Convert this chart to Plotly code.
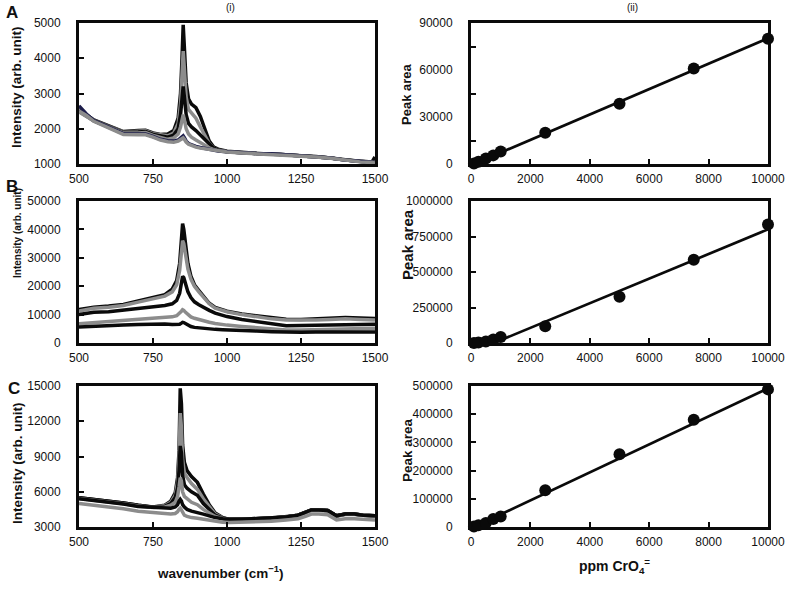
import plotly.graph_objects as go

# ---------------- DATA ----------------
# Panel A spectra (i)
wnA = [500, 525, 550, 600, 650, 700, 725, 750, 775, 800, 820, 835, 843, 848, 852, 856, 862, 870, 880, 895,
       910, 925, 940, 955, 970, 1000, 1050, 1100, 1150, 1200, 1250, 1300, 1350, 1400, 1450, 1490, 1500]
A1 = [2520, 2400, 2250, 2080, 1920, 1950, 1960, 1880, 1840, 1850, 1950, 2300, 3000, 4000, 4950, 4300, 3300, 2850, 2700, 2600,
      2350, 2000, 1650, 1480, 1420, 1360, 1320, 1300, 1290, 1260, 1240, 1210, 1170, 1110, 1070, 1060, 1200]
A2 = [2500, 2380, 2240, 2070, 1910, 1930, 1940, 1860, 1820, 1800, 1880, 2150, 2700, 3500, 4200, 3700, 2900, 2550, 2450, 2300,
      2050, 1800, 1580, 1450, 1400, 1350, 1320, 1300, 1290, 1260, 1240, 1210, 1170, 1110, 1070, 1050, 1040]
A3 = [2490, 2370, 2230, 2060, 1900, 1910, 1920, 1840, 1790, 1760, 1820, 2000, 2400, 2900, 3200, 2900, 2400, 2150, 2050, 1950,
      1820, 1700, 1550, 1450, 1400, 1350, 1320, 1300, 1290, 1260, 1240, 1210, 1170, 1110, 1070, 1050, 1040]
A4 = [2480, 2360, 2220, 2050, 1880, 1880, 1890, 1810, 1750, 1700, 1740, 1850, 2050, 2250, 2400, 2250, 2000, 1850, 1760, 1680,
      1600, 1520, 1460, 1410, 1380, 1350, 1320, 1300, 1290, 1260, 1240, 1210, 1170, 1110, 1070, 1050, 1040]
A5 = [2650, 2420, 2230, 2040, 1860, 1850, 1850, 1780, 1700, 1660, 1650, 1680, 1740, 1790, 1800, 1750, 1650, 1580, 1540, 1500,
      1470, 1440, 1410, 1390, 1370, 1350, 1320, 1300, 1290, 1260, 1240, 1210, 1170, 1110, 1070, 1050, 1040]
A6 = [2500, 2380, 2210, 2020, 1840, 1830, 1830, 1760, 1680, 1630, 1620, 1650, 1700, 1730, 1740, 1700, 1620, 1560, 1520, 1480,
      1450, 1430, 1400, 1380, 1360, 1340, 1310, 1290, 1280, 1250, 1230, 1200, 1160, 1100, 1060, 1040, 1030]

# Panel B spectra
wnB = [500, 550, 600, 650, 700, 750, 790, 815, 830, 840, 846, 850, 854, 860, 868, 878, 890, 905, 920, 940, 960, 985,
       1000, 1050, 1100, 1150, 1200, 1250, 1300, 1350, 1400, 1450, 1500]
B1 = [11800, 12600, 13000, 13600, 14800, 16000, 17000, 19000, 22000, 28000, 36000, 42000, 40000, 34000, 28000, 23500,
      20500, 18500, 16500, 14000, 12500, 11800, 11200, 10200, 9500, 8800, 8400, 8300, 8500, 8700, 9000, 8800, 8600]
B2 = [11300, 12200, 12600, 13200, 14400, 15500, 16500, 18000, 20500, 25500, 31500, 36000, 35000, 30500, 26000, 22500,
      20000, 18000, 16200, 13800, 12300, 11500, 11000, 10000, 9200, 8500, 8100, 8000, 8100, 8300, 8500, 8300, 8100]
B3 = [10000, 10800, 11000, 11500, 12000, 12600, 13200, 13800, 15000, 17500, 21000, 23500, 23000, 20500, 18000, 16000,
      14500, 13500, 12500, 11500, 10500, 9800, 9300, 8300, 7600, 6800, 6100, 6200, 6300, 6400, 6600, 6700, 6600]
B4 = [6800, 7200, 7400, 7700, 8100, 8500, 8900, 9200, 9600, 10400, 11200, 11700, 11500, 10800, 9900, 9200,
      8700, 8200, 7800, 7300, 6900, 6500, 6300, 5800, 5300, 4900, 4600, 4600, 4700, 4800, 5000, 5100, 5200]
B5 = [5600, 5900, 6100, 6300, 6500, 6700, 6700, 6500, 6400, 6600, 7000, 7300, 7200, 6800, 6200, 5800,
      5500, 5300, 5100, 4900, 4800, 4700, 4600, 4400, 4200, 4000, 3800, 3800, 3900, 3900, 4000, 4000, 3900]

# Panel C spectra
wnC = [500, 550, 600, 650, 700, 750, 790, 810, 825, 833, 838, 842, 846, 850, 856, 865, 880, 900, 920, 940, 960, 985,
       1010, 1050, 1100, 1150, 1200, 1240, 1265, 1285, 1310, 1340, 1370, 1400, 1430, 1460, 1500]
C1 = [5500, 5350, 5250, 5050, 4850, 4700, 4850, 5200, 5900, 7200, 9500, 14800, 13500, 10000, 8500, 7800, 7300, 6800, 5800,
      4900, 4200, 3800, 3650, 3650, 3700, 3750, 3850, 4000, 4250, 4450, 4450, 4400, 3950, 4100, 4100, 4000, 3950]
C2 = [5450, 5300, 5200, 5000, 4800, 4680, 4800, 5100, 5700, 6800, 8700, 12700, 11500, 8800, 7600, 7200, 6700, 6200, 5400,
      4700, 4100, 3780, 3640, 3640, 3690, 3740, 3840, 3990, 4240, 4430, 4430, 4380, 3940, 4080, 4080, 3990, 3940]
C3 = [5500, 5350, 5250, 5050, 4850, 4680, 4750, 5000, 5500, 6300, 7800, 9900, 9300, 7400, 6600, 6300, 6000, 5700, 5000,
      4500, 4000, 3760, 3650, 3650, 3700, 3750, 3850, 4000, 4250, 4450, 4450, 4400, 3950, 4100, 4100, 4000, 3950]
C4 = [5420, 5280, 5180, 4980, 4780, 4650, 4700, 4850, 5100, 5600, 6400, 7200, 6900, 6000, 5600, 5400, 5100, 4900, 4500,
      4200, 3900, 3720, 3630, 3630, 3680, 3730, 3830, 3980, 4230, 4420, 4420, 4370, 3930, 4070, 4070, 3980, 3930]
C5 = [5400, 5250, 5150, 4950, 4750, 4650, 4600, 4600, 4700, 4900, 5200, 5350, 5200, 4900, 4700, 4500, 4350, 4250, 4100,
      3950, 3800, 3700, 3650, 3650, 3700, 3750, 3850, 4000, 4250, 4450, 4450, 4400, 3950, 4100, 4100, 4000, 3950]
C6 = [5000, 4850, 4750, 4550, 4350, 4250, 4150, 4100, 4150, 4300, 4500, 4600, 4450, 4200, 4000, 3900, 3800, 3750, 3650,
      3550, 3450, 3400, 3380, 3400, 3450, 3500, 3600, 3700, 3900, 4100, 4100, 4050, 3600, 3700, 3700, 3650, 3600]

# Calibration (ii)
conc = [100, 250, 500, 750, 1000, 2500, 5000, 7500, 10000]
areaA = [300, 1500, 3500, 5500, 8000, 20000, 38500, 61000, 80000]
areaB = [0, 3000, 10000, 25000, 42000, 118000, 326000, 586000, 835000]
areaC = [2000, 6000, 14000, 28000, 37000, 130000, 258000, 380000, 488000]
fitA_x, fitA_y = [100, 10000], [0, 80300]
fitB_x, fitB_y = [770, 10000], [0, 800000]
fitC_x, fitC_y = [100, 10000], [0, 492000]

# ---------------- STYLE ----------------
BLACK = "#0a0a0a"
GRAY = "#8c8c8c"
NAVY = "#1c1c4a"
FONT = "Liberation Sans, Arial, sans-serif"
W, H = 787, 589


def px_x(p):
    return p / W


def px_y(p):
    return 1 - p / H


fig = go.Figure()


def add_line(x, y, color, ax):
    fig.add_trace(go.Scatter(x=x, y=y, mode="lines", line=dict(color=color, width=3.5),
                             xaxis="x" + ax, yaxis="y" + ax, showlegend=False, hoverinfo="skip"))


# Spectra
for y, c in [(A1, BLACK), (A2, GRAY), (A3, BLACK), (A4, GRAY), (A5, NAVY), (A6, GRAY)]:
    add_line(wnA, y, c, "")
for y, c in [(B1, BLACK), (B2, GRAY), (B3, BLACK), (B4, GRAY), (B5, BLACK)]:
    add_line(wnB, y, c, "3")
for y, c in [(C1, BLACK), (C2, GRAY), (C3, BLACK), (C4, GRAY), (C5, BLACK), (C6, GRAY)]:
    add_line(wnC, y, c, "5")

# Calibration
for ax, fx, fy, yy in [("2", fitA_x, fitA_y, areaA), ("4", fitB_x, fitB_y, areaB), ("6", fitC_x, fitC_y, areaC)]:
    fig.add_trace(go.Scatter(x=fx, y=fy, mode="lines", line=dict(color=BLACK, width=2.7),
                             xaxis="x" + ax, yaxis="y" + ax, showlegend=False))
    fig.add_trace(go.Scatter(x=conc, y=yy, mode="markers", marker=dict(color=BLACK, size=12),
                             cliponaxis=False, xaxis="x" + ax, yaxis="y" + ax, showlegend=False))

tickfont = dict(family=FONT, size=12, color="#111")
common = dict(showline=True, mirror=True, linewidth=3, linecolor=BLACK, showgrid=False, zeroline=False,
              ticks="inside", ticklen=5, tickwidth=2, tickcolor=BLACK, tickfont=tickfont,
              automargin=False, tickformat="d")

# Pixel frames (window pixels)
LX = (79, 375)
RX = (471, 768)
ROWS = [(23, 164), (201, 343), (386, 527)]


def xdom(p):
    return [px_x(p[0]), px_x(p[1])]


def ydom(r):
    return [px_y(r[1]), px_y(r[0])]


lay = {}
yranges_left = [([1000, 5000], 1000), ([0, 50000], 10000), ([3000, 15000], 3000)]
yranges_right = [([0, 90000], 30000), ([0, 1000000], 250000), ([0, 500000], 100000)]
for i in range(3):
    nl = 2 * i + 1
    nr = 2 * i + 2
    kx = "xaxis" if nl == 1 else f"xaxis{nl}"
    ky = "yaxis" if nl == 1 else f"yaxis{nl}"
    sfx = "" if nl == 1 else str(nl)
    lay[kx] = dict(common, domain=xdom(LX), range=[500, 1500], tickvals=[500, 750, 1000, 1250, 1500],
                   anchor="y" + sfx, ticklabelstandoff=2)
    lay[ky] = dict(common, domain=ydom(ROWS[i]), range=yranges_left[i][0], dtick=yranges_left[i][1],
                   anchor="x" + sfx, ticklabelstandoff=13)
    lay[f"xaxis{nr}"] = dict(common, domain=xdom(RX), range=[0, 10000], dtick=2000, anchor=f"y{nr}",
                             ticklabelstandoff=2)
    ya = dict(common, domain=ydom(ROWS[i]), range=yranges_right[i][0], dtick=yranges_right[i][1],
              anchor=f"x{nr}", ticklabelstandoff=13)
    if i == 0:
        ya["ticks"] = ""
        ya["minor"] = dict(ticks="inside", dtick=15000, ticklen=5, tickwidth=2, tickcolor=BLACK)
    lay[f"yaxis{nr}"] = ya

fig.update_layout(**lay)

ann = []


def A(text, x, y, size=12, bold=True, angle=0):
    ann.append(dict(text=f"<b>{text}</b>" if bold else text, x=px_x(x), y=px_y(y), xref="paper", yref="paper",
                    showarrow=False, textangle=angle, font=dict(family=FONT, size=size, color="#111"),
                    xanchor="center", yanchor="middle"))


A("A", 12, 13, size=17)
A("B", 12, 186, size=17)
A("C", 14, 388, size=17)
A("(i)", 230, 7, size=10, bold=False)
A("(ii)", 632, 7, size=10, bold=False)
A("Intensity (arb. unit)", 17, 87, size=13.5, angle=-90)
A("Intensity (arb. unit)", 17, 233, size=10, angle=-90)
A("Intensity (arb. unit)", 17, 463, size=13.5, angle=-90)
A("Peak area", 407, 95, size=13, angle=-90)
A("Peak area", 407, 245, size=15, angle=-90)
A("Peak area", 407, 450, size=13.5, angle=-90)
A("wavenumber (cm<sup>\u22121</sup>)", 220, 572, size=13.5)
A("ppm CrO<sub>4</sub><sup>=</sup>", 614, 566, size=14)

fig.update_layout(template="none", annotations=ann, width=W, height=H, autosize=False,
                  margin=dict(l=0, r=0, t=0, b=0, pad=0),
                  paper_bgcolor="white", plot_bgcolor="white", showlegend=False)

# remove the browser's default page margin so the figure sits at the window's corner
fig.write_html("out.html", config={"displayModeBar": False},
               post_script="document.body.style.margin='0px';")
